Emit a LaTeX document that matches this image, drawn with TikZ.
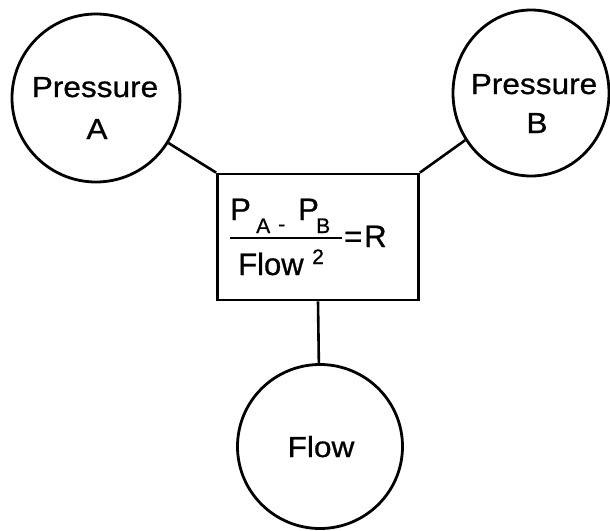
\documentclass[tikz,border=0pt]{standalone}
\usepackage{fontspec}
\setmainfont{Liberation Sans}[FakeStretch=1.09,FakeBold=0.8]
\newfontfamily\plainsans{Liberation Sans}[FakeBold=0.8]
\usetikzlibrary{shapes.geometric}
\begin{document}
\begin{tikzpicture}[x=1pt,y=-1pt,
  ring/.style={draw, ellipse, line width=2.8pt, inner sep=0pt},
  frame/.style={draw, rectangle, line width=2.8pt, inner sep=0pt, minimum width=201pt, minimum height=126pt},
  link/.style={line width=2.6pt},
  lbl/.style={inner sep=0pt, anchor=base, font=\fontsize{29}{29}\selectfont},
  big/.style={inner sep=0pt, anchor=base west, font=\plainsans\fontsize{31}{31}\selectfont},
  small/.style={inner sep=0pt, anchor=base west, font=\plainsans\fontsize{21}{21}\selectfont}]
\useasboundingbox (0,0) rectangle (610,530);
\fill[white] (0,0) rectangle (610,530);
% circles
\node[ring, minimum width=168pt, minimum height=168pt] (A) at (96,98) {};
\node[ring, minimum width=156pt, minimum height=166pt] (B) at (531,93) {};
\node[ring, minimum width=165pt, minimum height=164pt] (F) at (320,446.5) {};
% box
\node[frame] (box) at (318,237) {};
% labels
\node[lbl] (la1) at (95,97) {Pressure};
\node[lbl] (la2) at (97,139) {A};
\node[lbl] (lb1) at (534,94) {Pressure};
\node[lbl] (lb2) at (537,133) {B};
\node[lbl] (lf) at (321,457) {Flow};
% formula
\node[big] (p1) at (230,220) {P};
\node[small] (sa) at (256,233) {A};
\node[small] (mn) at (278,231) {-};
\node[big] (p2) at (298,220) {P};
\node[small] (sb) at (316,233) {B};
\coordinate (barl) at (230,238);
\coordinate (barr) at (342,238);
\draw[line width=2.8pt] (barl) -- (barr);
\node[big] (fl) at (238,275) {Flow};
\node[small] (sq) at (312,264) {2};
\node[big] (eq) at (344,247) {=\kern2pt R};
% connectors
\draw[link] (A) -- (box.north west);
\draw[link] (B) -- (box.north east);
\draw[link] (box.south) -- (F);
\end{tikzpicture}
\end{document}
